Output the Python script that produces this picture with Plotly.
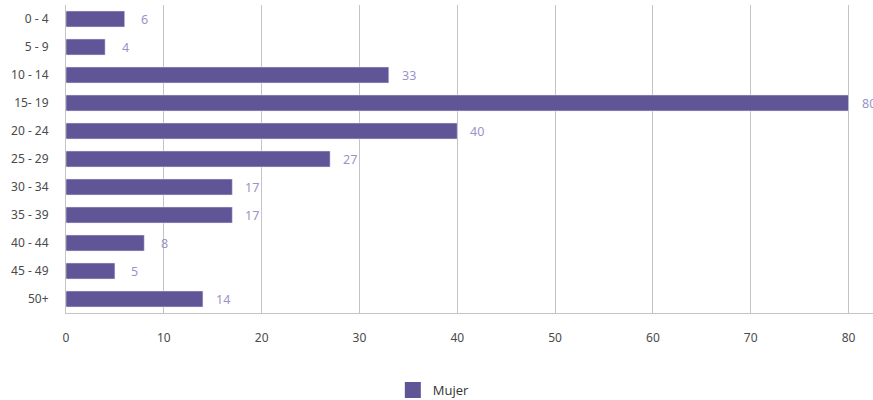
import plotly.graph_objects as go

# Age groups and counts
grupos = ["0 - 4", "5 - 9", "10 - 14", "15- 19", "20 - 24", "25 - 29",
          "30 - 34", "35 - 39", "40 - 44", "45 - 49", "50+"]
mujer = [6, 4, 33, 80, 40, 27, 17, 17, 8, 5, 14]

bar_color = "#5f5597"
label_color = "#9a93c9"

fig = go.Figure()
fig.add_trace(go.Bar(
    y=grupos, x=mujer, orientation="h", name="Mujer",
    marker=dict(color=bar_color), width=0.57, showlegend=False,
))
# legend-only entry with a bigger square swatch
fig.add_trace(go.Scatter(
    x=[None], y=[None], mode="markers", name="Mujer",
    marker=dict(symbol="square", size=16, color=bar_color),
))

# value labels placed a bit to the right of each bar
for g, v in zip(grupos, mujer):
    fig.add_annotation(x=v, y=g, text=str(v), showarrow=False,
                       xanchor="center", xshift=20,
                       font=dict(color=label_color, size=12.5))

fig.update_layout(
    width=873, height=400,
    margin=dict(l=66, r=0, t=5, b=87),
    plot_bgcolor="white", paper_bgcolor="white",
    font=dict(family="Noto Sans, Lato, sans-serif", color="#4a4a4a", size=12),
    showlegend=True,
    legend=dict(orientation="h", x=0.405, xanchor="left",
                yref="container", y=0.025, yanchor="middle",
                font=dict(family="Open Sans, sans-serif", size=13, color="#333333")),
)
fig.update_xaxes(range=[0, 82.5], dtick=10, showgrid=True, gridcolor="#c4c4c4",
                 gridwidth=1, zeroline=False, showline=True, linecolor="#c4c4c4",
                 ticks="", ticklabelstandoff=14, automargin=False)
fig.update_yaxes(autorange="reversed", showgrid=False, showline=True,
                 linecolor="#c4c4c4", ticks="", ticklabelstandoff=14, automargin=False)

# drop the default page margin so the figure sits at the window's corner
fig.write_html("out.html", config={"displayModeBar": False},
               post_script="document.body.style.margin='0px';")
